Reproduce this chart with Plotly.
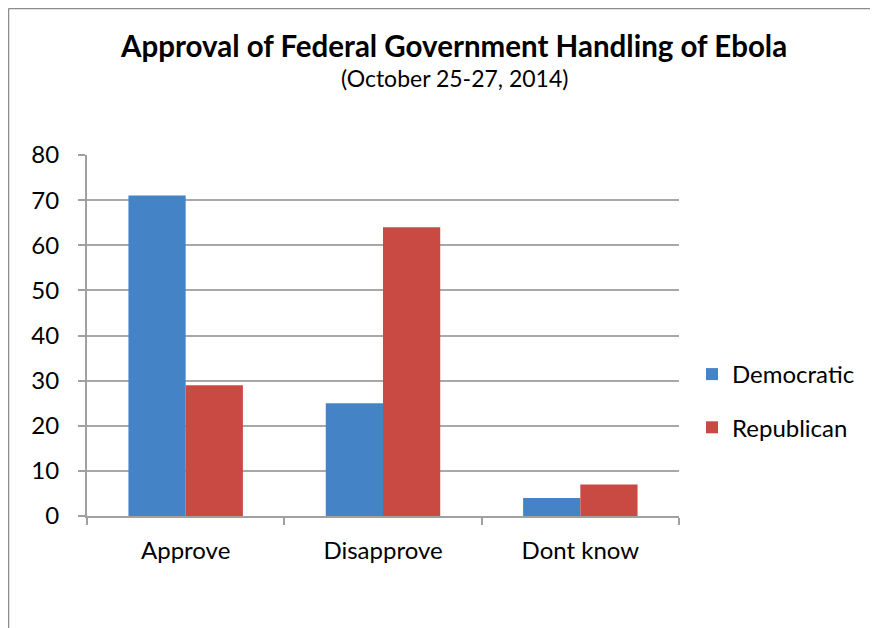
import plotly.graph_objects as go

categories = ["Approve", "Disapprove", "Dont know"]
democratic = [71, 25, 4]
republican = [29, 64, 7]
y_ticks = [0, 10, 20, 30, 40, 50, 60, 70, 80]

# page offset of the figure div (browser body margin)
OFF = 8
W, H = 870, 620
L, T = 87 - OFF, 155 - OFF
pw, ph = 592, 361
R, B = W - L - pw, H - T - ph

def px(xp):  # page x -> paper
    return (xp - OFF - L) / pw

def py(yp):  # page y -> paper
    return 1 - (yp - OFF - T) / ph

fig = go.Figure()
fig.add_trace(go.Bar(name="Democratic", x=categories, y=democratic,
                     marker=dict(color="#4483c6", line=dict(width=0)),
                     legendgroup="d"))
fig.add_trace(go.Bar(name="Republican", x=categories, y=republican,
                     marker=dict(color="#c94a42", line=dict(width=0)),
                     legendgroup="r"))

# outer frame (left and top edges of the chart area)
fig.add_shape(type="line", xref="paper", yref="paper", x0=px(8.5), x1=px(890),
              y0=py(8.5), y1=py(8.5), line=dict(color="#8c8c8c", width=1.5))
fig.add_shape(type="line", xref="paper", yref="paper", x0=px(8.5), x1=px(8.5),
              y0=py(8.5), y1=py(640), line=dict(color="#8c8c8c", width=1.5))

fig.add_annotation(text="<b>Approval of Federal Government Handling of Ebola</b>",
                   xref="paper", yref="paper", x=px(453), y=py(45),
                   xanchor="center", yanchor="middle", showarrow=False,
                   font=dict(size=29.5, color="#000000"))
fig.add_annotation(text="(October 25-27, 2014)",
                   xref="paper", yref="paper", x=px(454), y=py(78),
                   xanchor="center", yanchor="middle", showarrow=False,
                   font=dict(size=23, color="#000000"))

fig.update_layout(
    width=W, height=H,
    margin=dict(l=L, r=R, t=T, b=B),
    paper_bgcolor="white", plot_bgcolor="white",
    font=dict(family="Lato, 'Open Sans', sans-serif", size=24, color="#000000"),
    barmode="group", bargap=0.42, bargroupgap=0,
    legend=dict(x=px(692), xanchor="left", y=py(401), yanchor="middle",
                traceorder="grouped", tracegroupgap=19,
                font=dict(size=24), bgcolor="rgba(0,0,0,0)"),
    xaxis=dict(showline=True, linecolor="#a0a0a0", linewidth=2,
               ticks="outside", tickson="boundaries", ticklen=7, tickcolor="#a0a0a0",
               tickwidth=2, showgrid=False, tickfont=dict(size=24),
               ticklabelstandoff=12),
    yaxis=dict(range=[0, 80], tickvals=y_ticks, showline=True, linecolor="#a0a0a0",
               linewidth=2, ticks="outside", ticklen=7, tickcolor="#a0a0a0", tickwidth=2,
               showgrid=True, gridcolor="#a8a8a8", gridwidth=2, zeroline=False,
               tickfont=dict(size=24), ticklabelstandoff=14),
)

fig.write_html("out.html")
